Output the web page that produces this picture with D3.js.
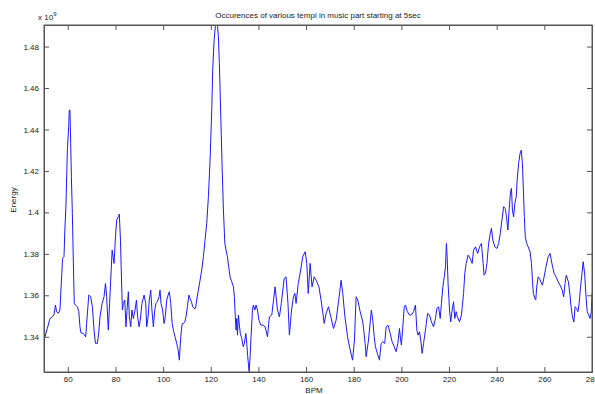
<!DOCTYPE html>
<html>
<head>
<meta charset="utf-8">
<script src="https://cdn.jsdelivr.net/npm/d3@7"></script>
<style>
  html, body { margin: 0; padding: 0; background: #fff; }
  svg { display: block; }
  text { font-family: "Liberation Sans", Arial, Helvetica, sans-serif; fill: #222; }
</style>
</head>
<body>
<svg id="chart" width="595" height="394"></svg>
<script>
// ---- data (energy in units of 1e9) ----
const bpm = [
  50.0,50.4,51.4,52.5,53.5,54.2,54.8,55.3,56.0,56.7,57.4,57.8,58.4,58.8,59.2,59.8,60.4,60.6,60.9,61.2,61.5,61.9,62.3,62.7,63.2,64.0,64.6,65.1,65.5,66.5,67.5,67.9,68.8,69.6,70.3,71.0,71.6,72.4,73.0,73.5,74.4,75.2,75.8,76.3,76.7,77.0,77.4,78.0,78.6,79.0,79.4,80.0,80.5,81.2,81.6,82.1,82.5,82.9,83.3,83.9,84.4,84.8,85.4,85.8,86.4,86.9,87.5,88.2,88.8,89.3,89.9,90.4,91.1,92.0,92.7,93.1,93.7,94.2,94.8,
  95.3,95.9,96.5,97.0,97.6,98.3,98.7,99.1,99.8,100.4,100.9,101.5,102.1,102.6,103.2,103.8,104.3,105.0,105.7,106.3,106.8,107.4,108.0,108.5,109.1,109.6,110.2,110.8,111.3,111.9,112.4,113.0,113.6,114.1,114.8,115.5,116.2,116.9,117.6,118.3,119.0,119.7,120.4,120.8,121.4,121.9,122.5,122.8,123.2,123.6,124.2,124.8,125.3,125.9,126.4,127.0,127.5,128.1,128.8,129.5,129.9,130.3,130.6,130.9,131.2,131.6,132.0,132.4,133.0,133.6,134.1,134.7,135.1,135.5,136.1,136.5,136.9,137.5,137.9,138.5,139.0,139.6,140.2,141.0,
  141.8,142.8,143.8,144.6,145.6,147.0,148.0,148.8,149.6,150.8,151.6,152.4,153.0,153.9,154.7,155.3,155.8,156.7,157.5,158.6,159.6,160.3,160.9,161.7,162.5,163.4,164.2,165.4,166.5,167.6,168.4,169.4,170.4,171.5,172.6,173.7,174.7,175.4,176.3,177.4,178.5,179.5,180.3,181.0,181.7,182.7,183.8,184.8,185.2,186.2,187.4,
  188.0,188.6,189.1,189.9,190.8,191.5,192.2,193.0,193.6,194.4,195.3,196.1,197.0,197.8,198.5,199.2,199.6,200.0,200.6,201.2,201.7,202.5,203.4,204.2,205.1,205.9,206.5,207.0,207.6,208.2,208.7,209.3,210.1,211.0,211.8,212.6,213.5,214.3,214.9,215.6,216.3,216.8,217.4,218.0,218.5,218.9,219.2,219.6,220.2,220.7,221.3,221.9,222.4,223.0,223.5,224.4,225.2,226.1,226.6,227.2,228.0,228.9,229.7,230.3,231.1,232.0,232.8,233.6,
  234.3,234.7,235.3,235.9,236.6,237.3,237.8,238.4,239.2,240.1,240.8,241.5,242.2,242.9,243.6,244.1,244.7,245.2,245.8,246.2,246.6,247.1,247.6,248.2,248.6,249.2,249.8,250.3,250.8,251.2,251.6,252.0,252.6,253.2,254.0,254.6,255.0,255.4,256.0,256.4,256.8,257.4,258.0,258.5,259.2,259.9,260.7,261.6,262.4,263.3,264.1,264.9,265.8,266.6,267.5,268.1,268.7,269.2,270.1,270.7,271.2,271.8,272.4,272.9,273.5,274.1,274.6,275.2,275.8,276.3,276.9,277.5,278.0,278.6,279.2,279.7,280.0
];
const energy = [
  1.3456,1.3400,1.3440,1.3488,1.3496,1.3505,1.3553,1.3521,1.3513,1.3529,1.3689,1.3778,1.3786,1.3931,1.4027,1.4300,1.4421,1.4493,1.4493,1.4333,1.4172,1.3995,1.3770,1.3561,1.3553,1.3545,1.3521,1.3448,1.3419,1.3416,1.3400,1.3464,1.3601,1.3593,1.3545,1.3432,1.3368,1.3368,1.3424,1.3496,1.3561,1.3593,1.3657,1.3593,1.3496,1.3432,1.3529,1.3673,1.3818,1.3786,1.3754,1.3882,1.3963,1.3979,1.3992,1.3866,1.3689,1.3529,1.3561,1.3577,1.3448,1.3521,1.3617,1.3496,1.3448,1.3529,1.3488,1.3529,1.3577,1.3496,1.3448,1.3480,1.3561,1.3601,1.3561,1.3448,1.3496,1.3577,1.3625,
  1.3529,1.3448,1.3529,1.3561,1.3569,1.3593,1.3625,1.3561,1.3529,1.3464,1.3496,1.3577,1.3601,1.3617,1.3561,1.3464,1.3432,1.3400,1.3368,1.3336,1.3287,1.3400,1.3464,1.3464,1.3472,1.3496,1.3545,1.3601,1.3585,1.3569,1.3545,1.3537,1.3537,1.3577,1.3625,1.3673,1.3722,1.3786,1.3866,1.3947,1.4075,1.4252,1.4493,1.4686,1.4831,1.4895,1.4908,1.4903,1.4847,1.4719,1.4461,1.4204,1.4011,1.3850,1.3818,1.3786,1.3738,1.3689,1.3665,1.3641,1.3593,1.3496,1.3432,1.3488,1.3408,1.3505,1.3456,1.3416,1.3392,1.3352,1.3368,1.3416,1.3368,1.3304,1.3231,1.3304,1.3400,1.3529,1.3553,1.3529,1.3553,1.3529,1.3480,1.3456,
  1.3456,1.3448,1.3400,1.3496,1.3505,1.3641,1.3529,1.3496,1.3561,1.3681,1.3689,1.3561,1.3408,1.3529,1.3593,1.3609,1.3561,1.3657,1.3706,1.3786,1.3810,1.3754,1.3609,1.3754,1.3641,1.3689,1.3673,1.3641,1.3561,1.3464,1.3513,1.3545,1.3496,1.3440,1.3480,1.3577,1.3673,1.3609,1.3496,1.3400,1.3336,1.3287,1.3384,1.3593,1.3577,1.3521,1.3472,1.3368,1.3304,1.3384,1.3529,
  1.3480,1.3400,1.3352,1.3320,1.3287,1.3368,1.3376,1.3368,1.3448,1.3456,1.3416,1.3376,1.3352,1.3328,1.3368,1.3440,1.3392,1.3360,1.3448,1.3545,1.3553,1.3521,1.3505,1.3505,1.3521,1.3553,1.3432,1.3408,1.3424,1.3376,1.3320,1.3368,1.3432,1.3513,1.3505,1.3472,1.3448,1.3488,1.3537,1.3545,1.3488,1.3561,1.3641,1.3689,1.3738,1.3850,1.3786,1.3657,1.3529,1.3472,1.3529,1.3569,1.3488,1.3521,1.3496,1.3472,1.3505,1.3609,1.3706,1.3754,1.3794,1.3778,1.3754,1.3818,1.3834,1.3802,1.3834,1.3850,
  1.3754,1.3697,1.3706,1.3754,1.3850,1.3898,1.3923,1.3866,1.3834,1.3826,1.3850,1.3898,1.3963,1.4027,1.4019,1.3979,1.3915,1.4011,1.4100,1.4116,1.4011,1.3979,1.4043,1.4075,1.4156,1.4236,1.4284,1.4300,1.4236,1.4108,1.3979,1.3882,1.3850,1.3834,1.3810,1.3754,1.3673,1.3609,1.3585,1.3577,1.3641,1.3689,1.3681,1.3665,1.3649,1.3689,1.3738,1.3786,1.3802,1.3746,1.3706,1.3689,1.3665,1.3649,1.3625,1.3593,1.3657,1.3697,1.3665,1.3609,1.3545,1.3496,1.3472,1.3545,1.3537,1.3521,1.3561,1.3641,1.3706,1.3762,1.3706,1.3593,1.3521,1.3505,1.3488,1.3521,1.3609
];
const xTicks = [60, 80, 100, 120, 140, 160, 180, 200, 220, 240, 260, 280];
const xTickLabels = ["60","80","100","120","140","160","180","200","220","240","260","280"];
const yTicks = [1.34, 1.36, 1.38, 1.40, 1.42, 1.44, 1.46, 1.48];
const yTickLabels = ["1.34","1.36","1.38","1.4","1.42","1.44","1.46","1.48"];
const titleText = "Occurences of various tempi in music part starting at 5sec";
const xLabel = "BPM";
const yLabel = "Energy";

// ---- layout ----
const L = 44, R = 592, T = 25, B = 372;
const svg = d3.select("#chart");
const x = d3.scaleLinear().domain([50, 280]).range([L, R]);
const y = d3.scaleLinear().domain([1.323, 1.4904]).range([B, T]);
const axisColor = "#555";

svg.append("defs").append("clipPath").attr("id", "clip")
  .append("rect").attr("x", L).attr("y", T).attr("width", R - L).attr("height", B - T);

// line
const line = d3.line().x((d, i) => x(bpm[i])).y(d => y(d));
svg.append("path")
  .datum(energy)
  .attr("clip-path", "url(#clip)")
  .attr("fill", "none")
  .attr("stroke", "#1a1aff")
  .attr("stroke-width", 1)
  .attr("stroke-linejoin", "round")
  .attr("d", line);

function styleAxis(g) {
  g.selectAll("path").attr("stroke", axisColor);
  g.selectAll("line").attr("stroke", axisColor);
  g.selectAll("text").attr("fill", "#222")
    .style("font-family", '"Liberation Sans", Arial, sans-serif')
    .style("font-size", "8px");
}

// bottom
svg.append("g").attr("transform", `translate(0,${B})`)
  .call(d3.axisBottom(x).tickValues(xTicks).tickFormat((d, i) => xTickLabels[i])
    .tickSizeInner(-5).tickSizeOuter(0).tickPadding(4))
  .call(styleAxis);
// top
svg.append("g").attr("transform", `translate(0,${T})`)
  .call(d3.axisTop(x).tickValues(xTicks).tickFormat("")
    .tickSizeInner(-5).tickSizeOuter(0))
  .call(styleAxis);
// left
svg.append("g").attr("transform", `translate(${L},0)`)
  .call(d3.axisLeft(y).tickValues(yTicks).tickFormat((d, i) => yTickLabels[i])
    .tickSizeInner(-5).tickSizeOuter(0).tickPadding(5))
  .call(styleAxis);
// right
svg.append("g").attr("transform", `translate(${R},0)`)
  .call(d3.axisRight(y).tickValues(yTicks).tickFormat("")
    .tickSizeInner(-5).tickSizeOuter(0))
  .call(styleAxis);

// frame
svg.append("rect").attr("x", L).attr("y", T).attr("width", R - L).attr("height", B - T)
  .attr("fill", "none").attr("stroke", axisColor).attr("stroke-width", 1);

// title
svg.append("text").attr("x", (L + R) / 2).attr("y", 18)
  .attr("text-anchor", "middle").style("font-size", "8px").text(titleText);

// exponent label
const ex = svg.append("text").attr("x", 38).attr("y", 20).style("font-size", "8px");
ex.append("tspan").text("x 10");
ex.append("tspan").attr("dy", -4).style("font-size", "6px").text("9");

// axis labels
svg.append("text").attr("x", 314).attr("y", 393)
  .attr("text-anchor", "middle").style("font-size", "8px").text(xLabel);
svg.append("text").attr("transform", "translate(16,200) rotate(-90)")
  .attr("text-anchor", "middle").style("font-size", "8px").text(yLabel);
</script>
</body>
</html>
